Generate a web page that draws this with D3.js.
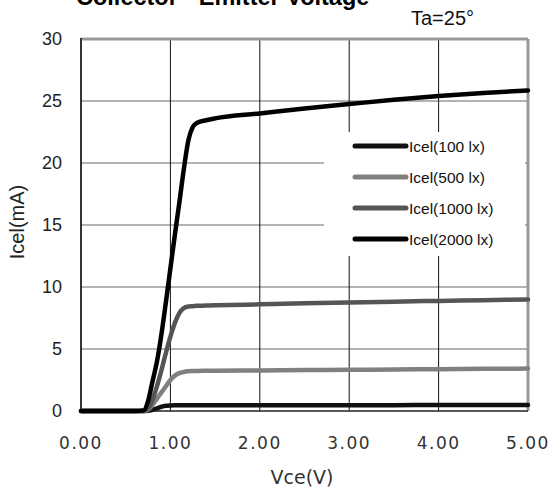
<!DOCTYPE html>
<html>
<head>
<meta charset="utf-8">
<script src="https://cdn.jsdelivr.net/npm/d3@7"></script>
<style>
  body { margin: 0; background: #fff; }
  svg { display: block; }
</style>
</head>
<body>
<div id="chart"></div>
<script>
// --------------------------------------
//  Data
// --------------------------------------

const vce = [0, 0.6, 0.7, 0.75, 0.8, 0.85, 0.9, 0.95, 1.0, 1.05, 1.1, 1.15, 1.2, 1.25, 1.3, 1.4, 1.5, 2, 2.5, 3, 3.5, 4, 4.5, 5];
const icel100  = [0, 0, 0, 0.02, 0.1, 0.22, 0.34, 0.42, 0.45, 0.46, 0.46, 0.46, 0.46, 0.46, 0.46, 0.46, 0.46, 0.46, 0.47, 0.47, 0.47, 0.48, 0.48, 0.48];
const icel500  = [0, 0, 0, 0.1, 0.5, 1.0, 1.5, 2.0, 2.5, 2.85, 3.05, 3.15, 3.2, 3.22, 3.23, 3.24, 3.25, 3.27, 3.3, 3.32, 3.35, 3.37, 3.4, 3.42];
const icel1000 = [0, 0, 0, 0.2, 0.9, 2.0, 3.3, 4.7, 6.0, 7.1, 7.9, 8.3, 8.42, 8.45, 8.48, 8.5, 8.52, 8.6, 8.68, 8.75, 8.82, 8.88, 8.94, 9.0];
const icel2000 = [0, 0, 0.05, 0.8, 2.4, 4.0, 6.2, 8.8, 11.5, 14.2, 16.8, 19.5, 21.8, 22.9, 23.25, 23.45, 23.6, 24.0, 24.4, 24.75, 25.1, 25.4, 25.65, 25.85];

const seriesNames = ["Icel(100 lx)", "Icel(500 lx)", "Icel(1000 lx)", "Icel(2000 lx)"];
const seriesValues = [icel100, icel500, icel1000, icel2000];
const seriesColors = ["#111", "#808080", "#555", "#000"];

const xTicks = [0, 1, 2, 3, 4, 5];
const yTicks = [0, 5, 10, 15, 20, 25, 30];

// --------------------------------------
//  Canvas
// --------------------------------------

const width = 552;
const height = 494;
const margin = {top: 39, right: 24, bottom: 83, left: 81};

const svg = d3.select("#chart")
  .append("svg")
    .attr("width", width)
    .attr("height", height);

const x = d3.scaleLinear().domain([0, 5]).range([margin.left, width - margin.right]);
const y = d3.scaleLinear().domain([0, 30]).range([height - margin.bottom, margin.top]);

// --------------------------------------
//  Grid
// --------------------------------------

svg.append("g")
  .selectAll("line")
  .data(yTicks.slice(1, -1))
  .join("line")
    .attr("x1", x(0)).attr("x2", x(5))
    .attr("y1", d => y(d)).attr("y2", d => y(d))
    .attr("stroke", "#666")
    .attr("stroke-width", 1);

svg.append("g")
  .selectAll("line")
  .data(xTicks.slice(1, -1))
  .join("line")
    .attr("x1", d => x(d)).attr("x2", d => x(d))
    .attr("y1", y(0)).attr("y2", y(30))
    .attr("stroke", "#111")
    .attr("stroke-width", 1);

// borders
svg.append("line").attr("x1", x(0)).attr("x2", x(5)).attr("y1", y(30)).attr("y2", y(30))
  .attr("stroke", "#999").attr("stroke-width", 3);
svg.append("line").attr("x1", x(5)).attr("x2", x(5)).attr("y1", y(30)).attr("y2", y(0))
  .attr("stroke", "#999").attr("stroke-width", 3);
svg.append("line").attr("x1", x(0)).attr("x2", x(0)).attr("y1", y(30) - 1).attr("y2", y(0))
  .attr("stroke", "#333").attr("stroke-width", 2);
svg.append("line").attr("x1", x(0)).attr("x2", x(5)).attr("y1", y(0)).attr("y2", y(0))
  .attr("stroke", "#222").attr("stroke-width", 1.5);

// --------------------------------------
//  Axes labels
// --------------------------------------

svg.append("g")
  .selectAll("text")
  .data(yTicks)
  .join("text")
    .attr("x", 62)
    .attr("y", d => y(d) + 6)
    .attr("text-anchor", "end")
    .attr("font-family", "Liberation Sans, Arial, sans-serif")
    .attr("font-size", 18)
    .attr("fill", "#222")
    .text(d => d);

svg.append("g")
  .selectAll("text")
  .data(xTicks)
  .join("text")
    .attr("x", d => x(d))
    .attr("y", 449)
    .attr("text-anchor", "middle")
    .attr("font-family", "DejaVu Sans, sans-serif")
    .attr("font-size", 17)
    .attr("letter-spacing", 1.5)
    .attr("fill", "#333")
    .text(d3.format(".2f"));

svg.append("text")
  .attr("x", 302).attr("y", 484)
  .attr("text-anchor", "middle")
  .attr("font-family", "DejaVu Sans, sans-serif")
  .attr("font-size", 19)
  .attr("fill", "#333")
  .text("Vce(V)");

svg.append("text")
  .attr("transform", "translate(24, 222) rotate(-90)")
  .attr("text-anchor", "middle")
  .attr("font-family", "Liberation Sans, Arial, sans-serif")
  .attr("font-size", 20)
  .attr("fill", "#222")
  .text("Icel(mA)");

svg.append("text")
  .attr("x", 76).attr("y", 5)
  .attr("font-family", "Liberation Sans, Arial, sans-serif")
  .attr("font-size", 23.5)
  .attr("font-weight", "bold")
  .attr("fill", "#000")
  .text("Collector - Emitter Voltage");

svg.append("text")
  .attr("x", 411).attr("y", 25)
  .attr("font-family", "Liberation Sans, Arial, sans-serif")
  .attr("font-size", 20)
  .attr("fill", "#111")
  .text("Ta=25°");

// --------------------------------------
//  Legend
// --------------------------------------

svg.append("rect")
  .attr("x", 324).attr("y", 132)
  .attr("width", 201).attr("height", 124)
  .attr("fill", "#fff");

const legend = svg.append("g")
  .selectAll("g")
  .data(seriesNames)
  .join("g")
    .attr("transform", (d, i) => `translate(0, ${146 + i * 31})`);

legend.append("line")
  .attr("x1", 355).attr("x2", 406)
  .attr("stroke", (d, i) => seriesColors[i])
  .attr("stroke-width", 5)
  .attr("stroke-linecap", "round");

legend.append("text")
  .attr("x", 409).attr("y", 5.5)
  .attr("font-family", "Liberation Sans, Arial, sans-serif")
  .attr("font-size", 15.5)
  .attr("fill", "#111")
  .text(d => d);

// --------------------------------------
//  Curves
// --------------------------------------

const line = d3.line()
  .x((d, i) => x(vce[i]))
  .y(d => y(d))
  .curve(d3.curveMonotoneX);

svg.append("g")
  .selectAll("path")
  .data(seriesValues)
  .join("path")
    .attr("d", d => line(d))
    .attr("fill", "none")
    .attr("stroke", (d, i) => seriesColors[i])
    .attr("stroke-width", 4.5)
    .attr("stroke-linejoin", "round")
    .attr("stroke-linecap", "round");
</script>
</body>
</html>
